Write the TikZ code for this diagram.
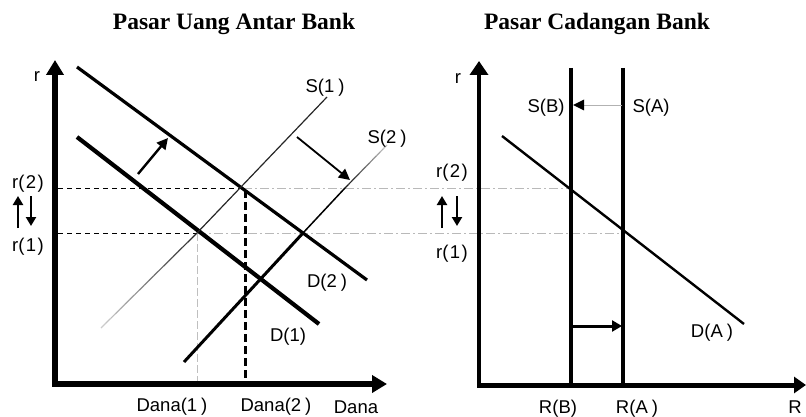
\documentclass[tikz,border=0pt]{standalone}
\usepackage{fontspec}
\setmainfont{Liberation Sans}
\newfontfamily\titlefont{Liberation Serif}
\usetikzlibrary{arrows.meta,calc}
% spacing inside the bracketed labels
\newcommand\lsp{\kern1.5pt}
\newcommand\rsp{\kern4pt}
\begin{document}
\begin{tikzpicture}[x=1pt,y=-1pt,line cap=butt,
  lbl/.style={font=\fontsize{18.5}{20}\selectfont, inner sep=0pt, anchor=base},
  ttl/.style={font=\titlefont\bfseries\fontsize{23.5}{26}\selectfont, inner sep=0pt, anchor=base},
  guide/.style={line width=0.7pt, dash pattern=on 5pt off 4pt},
  guidegray/.style={line width=0.7pt, gray!55, dash pattern=on 9pt off 3pt on 2pt off 3pt},
  shiftarrow/.style={line width=2.4pt, -{Triangle[length=11pt,width=11pt]}},
  updown/.style={line width=2.2pt, -{Triangle[length=9pt,width=10pt]}},
]
\useasboundingbox (0,0) rectangle (806,417);

% titles
\node[ttl] (t1) at (234,30) {Pasar Uang Antar Bank};
\node[ttl] (t2) at (597,30) {Pasar Cadangan Bank};

% ---------------- left panel: interbank money market ----------------
\coordinate (Ltop) at (55,60);
\coordinate (Lo) at (55,384);
\coordinate (Lright) at (387,384);

% key points
\coordinate (E2) at (243,188);   % D(2) x S(1)
\coordinate (E1) at (197,233);   % D(1) x S(1)
\coordinate (E3) at (303,233);   % D(2) x S(2)
\coordinate (Ax2) at (58,188);
\coordinate (Ax1) at (58,233);

% reference levels r(1), r(2)
\draw[guide] (Ax2) -- (E2);
\draw[guidegray] (E2) -- (571,188);
\draw[guide] (Ax1) -- (E1);
\draw[guidegray] (E1) -- (623,233);

% Dana(1) and Dana(2)
\draw[line width=0.7pt, gray!50, dash pattern=on 8pt off 3pt] (E1) -- (197,383);
\draw[line width=3pt, dash pattern=on 8pt off 4pt] (245,190) -- (245,382);

% demand curves
\coordinate (D2a) at (77,67);  \coordinate (D2b) at (367,280);
\coordinate (D1a) at (77,137); \coordinate (D1b) at (319,324);
\draw[line width=3.2pt] (D2a) -- (D2b);
\draw[line width=4.2pt] (D1a) -- (D1b);

% supply S(1): faded lower end
\coordinate (S1a) at (101,328); \coordinate (S1m) at (E1); \coordinate (S1b) at (327,97);
\foreach \i in {0,...,19} {
  \pgfmathsetmacro\ta{\i/20}
  \pgfmathsetmacro\tb{(\i+1)/20}
  \pgfmathtruncatemacro\c{20+65*\i/19}
  \draw[line width=1.2pt, black!\c] ($(S1a)!\ta!(S1m)$) -- ($(S1a)!\tb!(S1m)$);
}
\draw[line width=1.2pt, black!85] (S1m) -- (S1b);

% supply S(2): thick lower part, faded upper end
\coordinate (S2a) at (184,362); \coordinate (S2m) at (345,188); \coordinate (S2b) at (387,145);
\draw[line width=3pt] (S2a) -- (E3);
\draw[line width=1.5pt] (E3) -- (S2m);
\foreach \i in {0,...,11} {
  \pgfmathsetmacro\ta{\i/12}
  \pgfmathsetmacro\tb{(\i+1)/12}
  \pgfmathtruncatemacro\c{90-65*\i/11}
  \draw[line width=1.2pt, black!\c] ($(S2m)!\ta!(S2b)$) -- ($(S2m)!\tb!(S2b)$);
}

% shifts
\coordinate (sh1a) at (138,174); \coordinate (sh1b) at (168,138);
\coordinate (sh2a) at (297,137); \coordinate (sh2b) at (350,180);
\draw[shiftarrow] (sh1a) -- (sh1b);
\draw[shiftarrow, line width=1.8pt] (sh2a) -- (sh2b);

% axes
\draw[line width=6pt, line join=miter,
  {Triangle[length=15pt,width=17pt]}-{Triangle[length=15pt,width=17pt]}]
  (Ltop) -- (Lo) -- (Lright);

% rate change arrows
\coordinate (lu1) at (18,228); \coordinate (lu2) at (18,196);
\coordinate (ld1) at (31,196); \coordinate (ld2) at (31,226);
\draw[updown] (lu1) -- (lu2);
\draw[updown] (ld1) -- (ld2);

% labels
\node[lbl] (lr)  at (37,82)  {r};
\node[lbl] (lr2) at (28,188) {r(\lsp2\lsp)};
\node[lbl] (lr1) at (28,251) {r(\lsp1\lsp)};
\node[lbl] (ls1) at (325,93) {S(1\rsp)};
\node[lbl] (ls2) at (387,143) {S(2\rsp)};
\node[lbl] (ld2l) at (327,287) {D(2\rsp)};
\node[lbl] (ld1l) at (288,341) {D(1)};
\node[lbl] (lq1) at (172,411) {Dana(1\rsp)};
\node[lbl] (lq2) at (276,411) {Dana(2\rsp)};
\node[lbl] (lq)  at (356,413) {Dana};

% ---------------- right panel: bank reserves market ----------------
\coordinate (Rtop) at (479,61);
\coordinate (Ro) at (479,387);
\coordinate (Rx0) at (477,385);
\coordinate (Rright) at (806,385);
\coordinate (SBt) at (571,68); \coordinate (SBb) at (571,384);
\coordinate (SAt) at (623,68); \coordinate (SAb) at (623,384);
\coordinate (DAa) at (502,136); \coordinate (DAb) at (744,324);

\draw[line width=3.3pt] (SBt) -- (SBb);
\draw[line width=3.3pt] (SAt) -- (SAb);
\draw[line width=2.4pt] (DAa) -- (DAb);

% supply shift S(A) -> S(B)
\coordinate (sa) at (622,105); \coordinate (sb) at (573,105);
\draw[line width=0.8pt, gray!60] (sa) -- ($(sb)+(10,0)$);
\fill (sb) -- ++(11,-5.5) -- ++(0,11) -- cycle;

% reserves shift R(B) -> R(A)
\coordinate (rb) at (572,326); \coordinate (ra) at (622,326);
\draw[line width=3pt, -{Triangle[length=10pt,width=11pt]}] (rb) -- (ra);

% axes
\draw[line width=3.7pt, -{Triangle[length=14pt,width=18pt]}] (Ro) -- (Rtop);
\draw[line width=5pt, -{Triangle[length=12pt,width=16pt]}] (Rx0) -- (Rright);

% rate change arrows
\coordinate (ru1) at (442,228); \coordinate (ru2) at (442,196);
\coordinate (rd1) at (457,196); \coordinate (rd2) at (457,226);
\draw[updown] (ru1) -- (ru2);
\draw[updown] (rd1) -- (rd2);

% labels
\node[lbl] (rr)  at (458,84)  {r};
\node[lbl] (rr2) at (452,178) {r(\lsp2\lsp)};
\node[lbl] (rr1) at (452,258) {r(\lsp1\lsp)};
\node[lbl] (rsb) at (546,113) {S(B)};
\node[lbl] (rsa) at (651,113) {S(A)};
\node[lbl] (rda) at (712,337) {D(A\rsp)};
\node[lbl] (rRB) at (558,413) {R(B)};
\node[lbl] (rRA) at (637,413) {R(A\rsp)};
\node[lbl] (rR)  at (795,413) {R};
\end{tikzpicture}
\end{document}
